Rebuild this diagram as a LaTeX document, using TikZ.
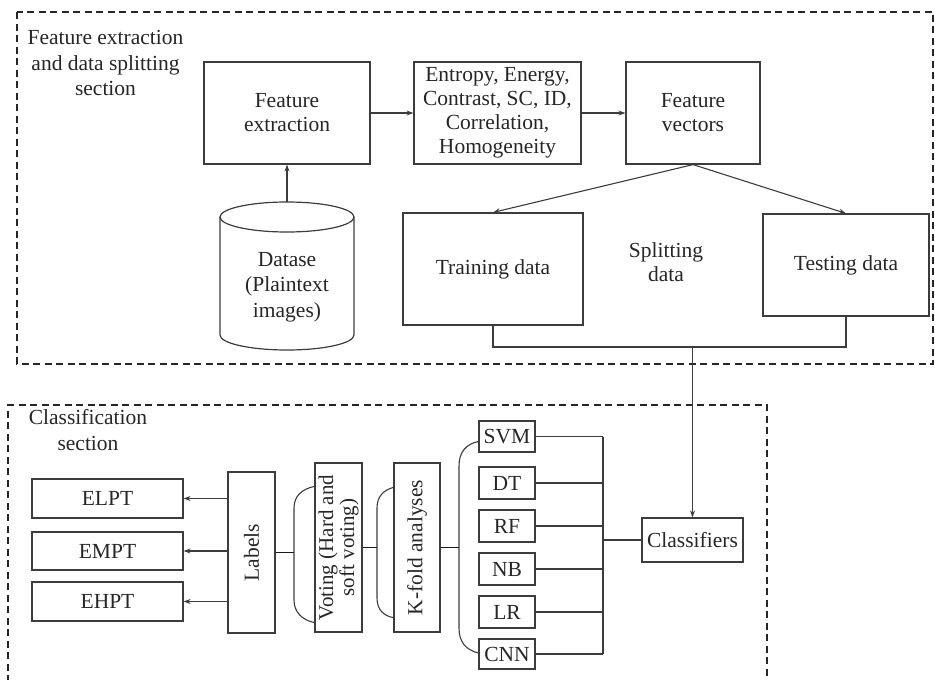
\documentclass[tikz,border=0pt]{standalone}
\usepackage{fontspec}
\setmainfont{Liberation Serif}
\usetikzlibrary{arrows.meta,calc}
\definecolor{lc}{HTML}{3C3C3C}
\definecolor{tc}{HTML}{262626}
\begin{document}
\begin{tikzpicture}[x=1pt,y=1pt,
  every node/.style={font=\fontsize{21.5}{24}\selectfont, text=tc},
  box/.style={draw=lc, line width=1.2pt, inner sep=0pt, align=center},
  conn/.style={draw=lc, line width=1.1pt},
  arr/.style={conn, -{Stealth[length=7pt,width=5pt]}},
  heavy/.style={draw=black!90, line width=1.9pt},
  sect/.style={draw=black!85, line width=1.1pt, dash pattern=on 7pt off 4.5pt},
  rot/.style={rotate=90, align=center}]
\useasboundingbox (0,0) rectangle (935,-680);

% ---------- section frames ----------
\draw[sect] (17,-12) rectangle (933,-364);
\draw[sect] (8,-682) -- (8,-405) -- (767,-405) -- (767,-682);

\node[align=center, font=\fontsize{21.5}{25.5}\selectfont] (t1) at (105.5,-63) {Feature extraction\\and data splitting\\section};
\node[align=center, font=\fontsize{21.5}{25.5}\selectfont] (t2) at (88,-430) {Classification\\section};

% ---------- top section ----------
\node[box, minimum width=166pt, minimum height=102pt] (fe) at (287,-113) {Feature\\extraction};
\node[box, minimum width=167pt, minimum height=102pt] (ent) at (497.5,-113) {Entropy, Energy,\\Contrast, SC, ID,\\Correlation,\\Homogeneity};
\node[box, minimum width=134pt, minimum height=102pt] (fv) at (693,-113) {Feature\\vectors};

% cylinder (dataset)
\draw[draw=lc, line width=1.2pt] (287,-217) ellipse [x radius=67, y radius=15];
\draw[draw=lc, line width=1.2pt] (220,-217) -- (220,-335)
  arc[start angle=180, end angle=360, x radius=67, y radius=15] -- (354,-217);
\node[align=center, font=\fontsize{21.5}{25.5}\selectfont] (db) at (287,-287) {Datase\\(Plaintext\\images)};
\coordinate (dbtop) at (287,-202);

\node[box, minimum width=180pt, minimum height=112pt] (tr) at (493,-269) {Training data};
\node[box, minimum width=166pt, minimum height=102pt] (te) at (846,-265) {Testing data};
\node[align=center] (split) at (666,-262) {Splitting\\data};

\draw[arr] (dbtop) -- (fe.south);
\draw[arr] (fe.east) -- (ent.west);
\draw[arr] (ent.east) -- (fv.west);
\draw[arr] (fv.south) -- (tr.north);
\draw[arr] (fv.south) -- (te.north);

% ---------- bottom section ----------
\node[box, minimum width=101pt, minimum height=44pt] (cls) at (692.5,-540) {Classifiers};

\coordinate (jn) at (692.5,-347);
\draw[conn] (tr.south) -- (tr.south |- jn) -- (te.south |- jn) -- (te.south);
\draw[arr] (jn) -- (cls.north);

\node[box, minimum width=56pt, minimum height=31pt] (svm) at (507,-436.5) {SVM};
\node[box, minimum width=56pt, minimum height=32pt] (dt)  at (507,-483) {DT};
\node[box, minimum width=56pt, minimum height=32pt] (rf)  at (507,-526) {RF};
\node[box, minimum width=56pt, minimum height=32pt] (nb)  at (507,-569) {NB};
\node[box, minimum width=56pt, minimum height=32pt] (lr)  at (507,-612) {LR};
\node[box, minimum width=56pt, minimum height=30pt] (cnn) at (507,-654) {CNN};

\coordinate (bus) at (603,-540);
\foreach \n in {svm,dt,rf,nb,lr,cnn}{
  \draw[conn] (\n.east) -- (\n.east -| bus);
}
\draw[conn] (svm.east -| bus) -- (cnn.east -| bus);
\draw[conn] (cls.west -| bus) -- (cls.west);

\node[box, minimum width=46pt, minimum height=169pt] (kf) at (417,-547.5) {};
\node[rot] at (kf.center) {K-fold analyses};
\node[box, minimum width=47pt, minimum height=169pt] (vote) at (338.5,-547.5) {};
\node[rot, font=\fontsize{21}{21}\selectfont] at (vote.center) {Voting (Hard and\\soft voting)};
\node[box, minimum width=47pt, minimum height=161pt] (lab) at (251.5,-552.5) {};
\node[rot] at (lab.center) {Labels};

% brackets
\draw[conn] ($(svm.west)+(0,-5)$) .. controls (466,-444) and (459,-452) .. (459,-466)
  -- (459,-628) .. controls (459,-642) and (466,-650) .. ($(cnn.west)+(0,1)$);
\draw[heavy] (kf.east) -- (459,-547.5);

\draw[conn] ($(kf.north west)+(0,-25)$) .. controls (384,-490) and (377,-496) .. (377,-508)
  -- (377,-598) .. controls (377,-610) and (384,-616) .. ($(kf.south west)+(0,15)$);
\draw[heavy] (vote.east) -- (377,-547.5);

\draw[conn] ($(vote.north west)+(0,-24)$) .. controls (302,-489) and (294,-496) .. (294,-508)
  -- (294,-600) .. controls (294,-612) and (302,-620) .. ($(vote.south west)+(0,10)$);
\draw[heavy] (lab.east) -- (294,-552.5);

\node[box, minimum width=151pt, minimum height=39pt] (elpt) at (107.5,-498.5) {ELPT};
\node[box, minimum width=151pt, minimum height=38pt] (empt) at (107.5,-551) {EMPT};
\node[box, minimum width=151pt, minimum height=39pt] (ehpt) at (107.5,-601.5) {EHPT};

\draw[arr] (lab.west |- elpt) -- (elpt.east);
\draw[arr] (lab.west |- empt) -- (empt.east);
\draw[arr] (lab.west |- ehpt) -- (ehpt.east);
\end{tikzpicture}
\end{document}
